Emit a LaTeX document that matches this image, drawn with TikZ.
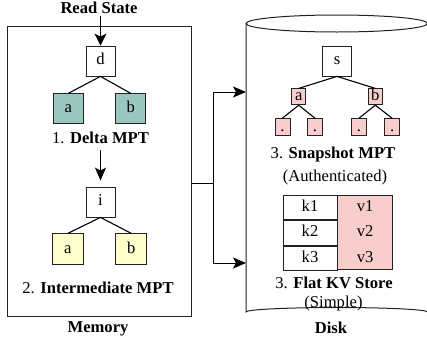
\documentclass[tikz,border=0pt]{standalone}
\usepackage{fontspec}
\setmainfont{Liberation Serif}
\usetikzlibrary{positioning, arrows.meta}

\definecolor{deltafill}{HTML}{9AC7BF}
\definecolor{interfill}{HTML}{FFFFCC}
\definecolor{snapfill}{HTML}{F8CECC}
\definecolor{edgegray}{HTML}{222222}

\tikzset{
    every node/.style={font=\fontsize{16.6}{19}\selectfont},
    box/.style={draw=edgegray, line width=0.8pt, inner sep=0pt,
        minimum width=29pt, minimum height=30pt,
        text height=11pt, text depth=3.5pt},
    deltabox/.style={box, fill=deltafill, minimum width=30pt},
    interbox/.style={box, fill=interfill, minimum width=31pt, minimum height=31pt},
    snapmid/.style={box, fill=snapfill, minimum width=14pt, minimum height=16pt},
    snapleaf/.style={box, fill=snapfill, minimum width=15pt, minimum height=17pt,
        text height=11pt, text depth=3pt},
    kcell/.style={box, fill=white, minimum width=54pt, minimum height=24.7pt},
    vcell/.style={inner sep=0pt, minimum width=55pt, minimum height=24.7pt,
        text height=11pt, text depth=3.5pt},
    caption/.style={anchor=base, inner sep=0pt},
    tree/.style={line width=1.1pt},
    readarrow/.style={line width=1.8pt, -{Stealth[length=12pt, width=12pt, inset=3pt]}},
    flow/.style={line width=1pt, -{Stealth[length=13pt, width=11pt, inset=3pt]}},
    store/.style={draw=edgegray, line width=1pt},
}

\begin{document}
\begin{tikzpicture}[x=1pt, y=-1pt]
    \useasboundingbox (0,0) rectangle (427,343);

    % memory side
    \node[store, minimum width=184pt, minimum height=290pt] (memory) at (99,171) {};
    \node[caption] (rs) at (99,13.5) {\textbf{Read State}};
    \node[caption] (memlbl) at (98,332) {\textbf{Memory}};

    \node[box] (d) at (100.5,61) {d};
    \node[deltabox] (da) [below left=17pt and 2pt of d] {a};
    \node[deltabox] (db) [below right=17pt and 0pt of d] {b};
    \node[caption] (deltalbl) at (100.5,143) {1. \textbf{Delta MPT}};

    \node[box] (i) at (100.5,202) {i};
    \node[interbox] (ia) [below left=16pt and 2pt of i] {a};
    \node[interbox] (ib) [below right=16pt and 0pt of i] {b};
    \node[caption] (interlbl) at (98,293) {2. \textbf{Intermediate MPT}};

    \draw[tree] (d.south) -- (da.north) (d.south) -- (db.north);
    \draw[tree] (i.south) -- (ia.north) (i.south) -- (ib.north);
    \draw[readarrow] (rs.south -| d.north) ++(0,2) -- (d.north);
    \draw[flow] (deltalbl.south) ++(0,7) -- ([yshift=6pt]i.north);

    % disk side
    \draw[store] (246,23.5) -- (246,312)
        arc[start angle=180, end angle=360, x radius=90.75, y radius=4.5] -- (427.5,23.5);
    \draw[store, fill=white] (336.75,23.5) ellipse[x radius=90.75, y radius=8.5];
    \node[caption] (disklbl) at (331,333) {\textbf{Disk}};

    \node[box] (s) at (337,61) {s};
    \node[snapmid] (sa) [below left=12pt and 16pt of s] {a};
    \node[snapmid] (sb) [below right=12pt and 16pt of s] {b};
    \node[snapleaf] (sa1) [below left=13pt and 1pt of sa] {.};
    \node[snapleaf] (sa2) [below right=13pt and 1pt of sa] {.};
    \node[snapleaf] (sb1) [below left=13pt and 1pt of sb] {.};
    \node[snapleaf] (sb2) [below right=13pt and 1.5pt of sb] {.};
    \draw[tree]
        (s.south) -- (sa.north)
        (s.south) -- (sb.north)
        (sa.south) -- (sa1.north)
        (sa.south) -- (sa2.north)
        (sb.south) -- (sb1.north)
        (sb.south) -- (sb2.north);
    \node[caption] (snaplbl) at (333,158) {3. \textbf{Snapshot MPT}};
    \node[caption] (authlbl) at (335,181) {(Authenticated)};

    \node[box, fill=snapfill, minimum width=55pt, minimum height=74pt] (vcol) at (364.5,232) {};
    \node[kcell] (k1) at (310,207.35) {k1};
    \node[kcell] (k2) [below=0pt of k1] {k2};
    \node[kcell] (k3) [below=0pt of k2] {k3};
    \node[vcell] (v1) [right=0pt of k1] {v1};
    \node[vcell] (v2) [right=0pt of k2] {v2};
    \node[vcell] (v3) [right=0pt of k3] {v3};
    \node[caption] (kvlbl) at (334,288.3) {3. \textbf{Flat KV Store}};
    \node[caption] (simplbl) at (333.5,307.5) {(Simple)};

    % memory to disk
    \coordinate (split) at (213,183);
    \coordinate (snapin) at (246,92);
    \coordinate (kvin) at (246,263);
    \draw[line width=1pt] (memory.east |- split) -- (split);
    \draw[flow] (split) |- (snapin);
    \draw[flow] (split) |- (kvin);
\end{tikzpicture}
\end{document}
